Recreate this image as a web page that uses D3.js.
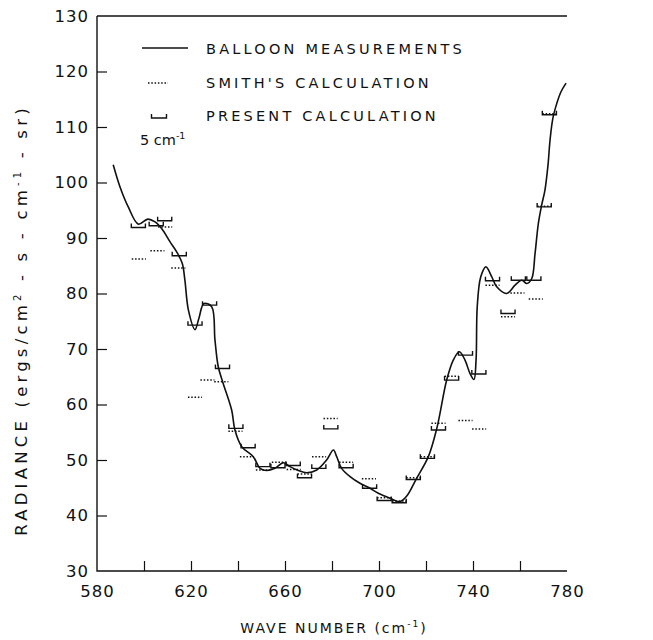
<!DOCTYPE html>
<html><head><meta charset="utf-8">
<script src="https://cdn.jsdelivr.net/npm/d3@7"></script>
<style>body{margin:0;background:#fff}svg{display:block}text{font-family:"DejaVu Sans",sans-serif;fill:#111}</style>
</head><body>
<svg id="c" width="653" height="640"></svg>
<script>
// Balloon measurements (wave number cm-1, radiance)
const balloonWave = [586.9,589.8,593.3,597.6,601.6,604.7,607.5,611.1,613.9,616.3,617.4,618.9,621.7,623.4,625.5,628.8,630.2,631.6,633.7,637.3,638.7,641.6,646.5,649.4,652.2,655.7,659.3,662.1,665.7,669.2,673.5,677.7,680.6,682.0,684.1,687.7,691.9,696.2,699.7,704.7,708.9,711.8,716.0,721.0,724.6,728.8,731.6,734.2,736.6,738.7,740.4,741.3,741.8,743.3,745.5,748.0,750.1,754.3,757.9,760.7,762.9,765.0,766.4,767.8,769.2,770.6,771.9,772.8,774.0,775.7,777.4,779.6];
const balloonRad  = [103.2,99.2,95.6,92.5,93.4,92.9,91.7,89.3,87.5,85.4,82.4,77.0,73.5,75.6,78.2,77.6,71.6,66.8,63.8,59.0,55.4,52.4,50.6,48.5,48.1,48.5,49.5,48.8,48.1,47.7,48.2,50.0,51.8,50.6,48.5,47.0,45.8,44.9,44.0,43.1,42.5,43.5,46.7,50.6,55.7,64.4,68.0,69.5,68.0,65.6,64.5,68.0,77.6,83.0,84.8,83.0,81.2,80.0,81.5,82.4,81.8,82.7,87.2,92.6,95.9,98.6,103.1,107.7,111.6,114.3,116.3,117.9];
// Present calculation (centre wave number of each interval)
const presentWave = [597.6,605.2,608.8,615.0,621.7,627.9,633.4,639.1,644.3,650.6,657.0,663.5,668.3,674.4,679.5,686.0,696.0,702.2,708.6,714.6,720.6,725.3,730.9,736.8,742.5,748.3,754.9,759.3,765.9,770.3,772.5];
const presentRad  = [91.9,92.2,93.1,86.8,74.3,77.9,66.5,55.7,52.2,48.8,48.6,49.0,46.8,48.5,55.6,48.6,44.9,42.7,42.3,46.5,50.3,55.4,64.4,68.9,65.5,82.3,76.4,82.4,82.4,95.6,112.2];
// Smith's calculation
const smithWave = [597.8,605.7,609.0,614.6,621.7,627.0,632.9,638.9,643.8,650.6,657.4,663.7,668.3,674.5,679.4,686.0,695.7,702.2,708.6,714.6,720.6,725.3,730.9,736.8,742.6,748.3,754.9,758.9,766.7,770.3,772.5];
const smithRad  = [86.2,87.7,92.0,84.6,61.3,64.4,64.1,55.2,50.6,48.2,49.6,48.3,47.5,50.6,57.5,49.6,46.6,43.2,42.6,46.8,50.6,56.6,65.1,57.1,55.6,81.5,75.8,80.1,79.0,95.7,112.4];
const xTicks = [580,620,660,700,740,780];
const xMinor = [600,640,680,720,760];
const yTicks = [30,40,50,60,70,80,90,100,110,120,130];
const binWidth = 6;

const svg = d3.select("#c");
const x = d3.scaleLinear().domain([580,780]).range([97,567]);
const y = d3.scaleLinear().domain([30,130]).range([571,16]);

// frame: left, bottom, top
const g = svg.append("g").attr("stroke","#111").attr("stroke-width",1.4).attr("fill","none");
g.append("path").attr("d",`M${x(580)},${y(130)}V${y(30)}H${x(780)}`);
g.append("line").attr("x1",x(580)).attr("x2",x(780)).attr("y1",y(130)).attr("y2",y(130));

// y ticks inward
const yAxis = d3.axisLeft(y).tickValues(yTicks).tickSize(-10).tickPadding(8).tickFormat(d3.format("d"));
const ya = svg.append("g").attr("transform",`translate(${x(580)},0)`).call(yAxis);
ya.select(".domain").remove();
ya.selectAll(".tick line").attr("stroke","#111").attr("stroke-width",1.2).filter(d=>d===30||d===130).remove();
ya.selectAll(".tick text").attr("font-size",16.5).attr("letter-spacing",1).attr("fill","#111").attr("font-family","DejaVu Sans");

// x ticks upward
const xAxis = d3.axisBottom(x).tickValues(xTicks.concat(xMinor).sort((a,b)=>a-b)).tickSize(-10).tickPadding(14)
  .tickFormat(d=>xTicks.includes(d)?d3.format("d")(d):"");
const xa = svg.append("g").attr("transform",`translate(0,${y(30)})`).call(xAxis);
xa.select(".domain").remove();
xa.selectAll(".tick line").attr("stroke","#111").attr("stroke-width",1.2).filter(d=>d===580||d===780).remove();
xa.selectAll(".tick text").attr("font-size",16.5).attr("letter-spacing",1).attr("fill","#111").attr("font-family","DejaVu Sans");

// balloon curve
const pts = balloonWave.map((w,i)=>[w,balloonRad[i]]);
svg.append("path").datum(pts)
  .attr("d",d3.line().x(d=>x(d[0])).y(d=>y(d[1])).curve(d3.curveCatmullRom.alpha(0.5)))
  .attr("fill","none").attr("stroke","#111").attr("stroke-width",1.6);

// present calculation brackets
const bracket = (cx,cy,w)=>`M${cx-w/2},${cy-4}V${cy}H${cx+w/2}V${cy-4}`;
svg.append("g").selectAll("path").data(presentWave.map((w,i)=>[w,presentRad[i]])).join("path")
  .attr("d",d=>bracket(x(d[0]),y(d[1]),x(d[0]+binWidth/2)-x(d[0]-binWidth/2)))
  .attr("fill","none").attr("stroke","#111").attr("stroke-width",1.4);

// Smith's dotted segments
svg.append("g").selectAll("line").data(smithWave.map((w,i)=>[w,smithRad[i]])).join("line")
  .attr("x1",d=>x(d[0]-binWidth/2)).attr("x2",d=>x(d[0]+binWidth/2))
  .attr("y1",d=>y(d[1])).attr("y2",d=>y(d[1]))
  .attr("stroke","#111").attr("stroke-width",1.5).attr("stroke-dasharray","1.5,1.8");

// legend
const lg = svg.append("g");
lg.append("line").attr("x1",142).attr("x2",188).attr("y1",48).attr("y2",48).attr("stroke","#111").attr("stroke-width",1.3);
lg.append("line").attr("x1",148).attr("x2",168).attr("y1",83).attr("y2",83).attr("stroke","#111").attr("stroke-width",1.4).attr("stroke-dasharray","1.5,1.8");
lg.append("path").attr("d",bracket(159,118,15)).attr("fill","none").attr("stroke","#111").attr("stroke-width",1.4);
const legTexts = [["BALLOON MEASUREMENTS",48],["SMITH'S CALCULATION",82],["PRESENT CALCULATION",115]];
legTexts.forEach(([t,yy])=>lg.append("text").attr("x",206).attr("y",yy+6).attr("font-size",14.5).attr("letter-spacing",3.2).text(t));
const five = lg.append("text").attr("x",140).attr("y",145).attr("font-size",14.5);
five.append("tspan").text("5 cm");
five.append("tspan").attr("dy",-6).attr("font-size",9.5).text("-1");

// axis titles
const xt = svg.append("text").attr("x",334).attr("y",633).attr("text-anchor","middle").attr("font-size",14).attr("letter-spacing",2);
xt.append("tspan").text("WAVE NUMBER (cm");
xt.append("tspan").attr("dy",-6).attr("font-size",9).text("-1");
xt.append("tspan").attr("dy",6).text(")");

const ytt = svg.append("text").attr("transform","translate(27,320) rotate(-90)").attr("text-anchor","middle").attr("font-size",16.5).attr("letter-spacing",4.2);
ytt.append("tspan").text("RADIANCE (ergs/cm");
ytt.append("tspan").attr("dy",-6).attr("font-size",10).text("2");
ytt.append("tspan").attr("dy",6).text(" - s - cm");
ytt.append("tspan").attr("dy",-6).attr("font-size",10).text("-1");
ytt.append("tspan").attr("dy",6).text(" - sr)");
</script>
</body></html>
